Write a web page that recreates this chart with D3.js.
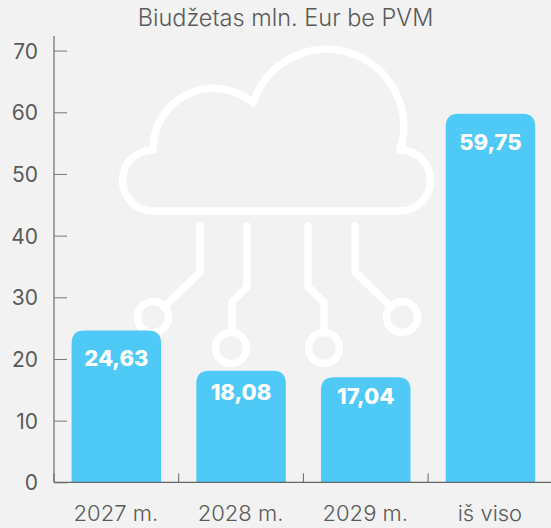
<!DOCTYPE html>
<html><head><meta charset="utf-8">
<script src="https://cdn.jsdelivr.net/npm/d3@7"></script>
<style>html,body{margin:0;padding:0;background:#f2f2f2;overflow:hidden}svg{display:block}text{font-family:Inter,"Open Sans",sans-serif}</style>
</head><body><script>
const categories = ["2027 m.", "2028 m.", "2029 m.", "iš viso"];
const values = [24.63, 18.08, 17.04, 59.75];
const valueLabels = ["24,63", "18,08", "17,04", "59,75"];
const yTicks = [0, 10, 20, 30, 40, 50, 60, 70];
const title = "Biudžetas mln. Eur be PVM";

const W = 551, H = 528;
const left = 54, baseY = 482.3, band = 124.7, yMaxPx = 36;
const labelOffset = [27.5, 21, 19, 28];
const svg = d3.select("body").append("svg").attr("width", W).attr("height", H);
svg.append("rect").attr("width", W).attr("height", H).attr("fill", "#f2f2f2");

const x = d3.scaleBand().domain(categories).range([left, left + band * 4]).paddingInner(0.282).paddingOuter(0.141);
const y = d3.scaleLinear().domain([0, 70]).range([baseY, 50.6]);

svg.append("text").attr("x", 285.5).attr("y", 26).attr("text-anchor", "middle")
  .attr("font-size", 23.5).attr("font-weight", 300).attr("fill", "#5a5a5a").text(title);

// decorative cloud icon
const icon = svg.append("g").attr("fill", "none").attr("stroke", "#fff").attr("stroke-width", 7.5)
  .attr("stroke-linecap", "round").attr("stroke-linejoin", "round");
icon.append("path").attr("d", "M153,150 A30.5,30.5 0 0 0 153,211 L400,211 A30.5,30.5 0 0 0 400,150 A77,77 0 0 0 253,103 A60.5,60.5 0 0 0 153,150 Z");
icon.selectAll("path.c").data([
  "M200,226 L200,272 L164,307",
  "M247,226 L247,287 L232,302 L232,332",
  "M308,226 L308,287 L324,302 L324,332",
  "M355,226 L355,272 L391,307"
]).join("path").attr("class", "c").attr("d", d => d);
icon.selectAll("circle").data([[153,317],[231,348],[324,348],[402,317]]).join("circle")
  .attr("cx", d => d[0]).attr("cy", d => d[1]).attr("r", 15.5);

// bars with rounded top corners
const r = 13;
svg.selectAll("path.bar").data(values).join("path").attr("class", "bar")
  .attr("fill", "#4fc9f6")
  .attr("d", (d, i) => {
    const x0 = x(categories[i]), x1 = x0 + x.bandwidth(), t = y(d);
    return `M${x0},${baseY} V${t + r} Q${x0},${t} ${x0 + r},${t} H${x1 - r} Q${x1},${t} ${x1},${t + r} V${baseY} Z`;
  });
svg.selectAll("text.val").data(values).join("text").attr("class", "val")
  .attr("x", (d, i) => x(categories[i]) + x.bandwidth() / 2)
  .attr("y", (d, i) => y(d) + labelOffset[i] + 8)
  .attr("text-anchor", "middle").attr("font-size", 22).attr("font-weight", 800)
  .attr("fill", "#fff").text((d, i) => valueLabels[i]);

// y axis
const yAxis = svg.append("g").attr("transform", `translate(${left},0)`)
  .call(d3.axisRight(y).tickValues(yTicks).tickSize(13).tickFormat(""));
yAxis.select(".domain").attr("d", `M0,${yMaxPx} V${baseY}`).attr("stroke", "#8c8c8c").attr("stroke-width", 1.6);
yAxis.selectAll(".tick line").attr("stroke", "#777").attr("stroke-width", 1);
svg.selectAll("text.yl").data(yTicks).join("text").attr("class", "yl")
  .attr("x", 38).attr("y", d => y(d) + 8).attr("text-anchor", "end")
  .attr("font-size", 21).attr("font-weight", 400).attr("fill", "#5a5a5a").text(d => d);

// x axis
svg.append("line").attr("x1", left).attr("x2", W).attr("y1", baseY).attr("y2", baseY)
  .attr("stroke", "#666").attr("stroke-width", 1.2);
svg.selectAll("line.xt").data(d3.range(0, 4)).join("line").attr("class", "xt")
  .attr("x1", i => left + band * i).attr("x2", i => left + band * i)
  .attr("y1", baseY - 9).attr("y2", baseY).attr("stroke", "#666").attr("stroke-width", 1);
svg.selectAll("text.xl").data(categories).join("text").attr("class", "xl")
  .attr("x", d => x(d) + x.bandwidth() / 2 - 0.5).attr("y", 520.5).attr("text-anchor", "middle")
  .attr("font-size", 22).attr("font-weight", 300).attr("fill", "#5a5a5a").text(d => d);
</script></body></html>
